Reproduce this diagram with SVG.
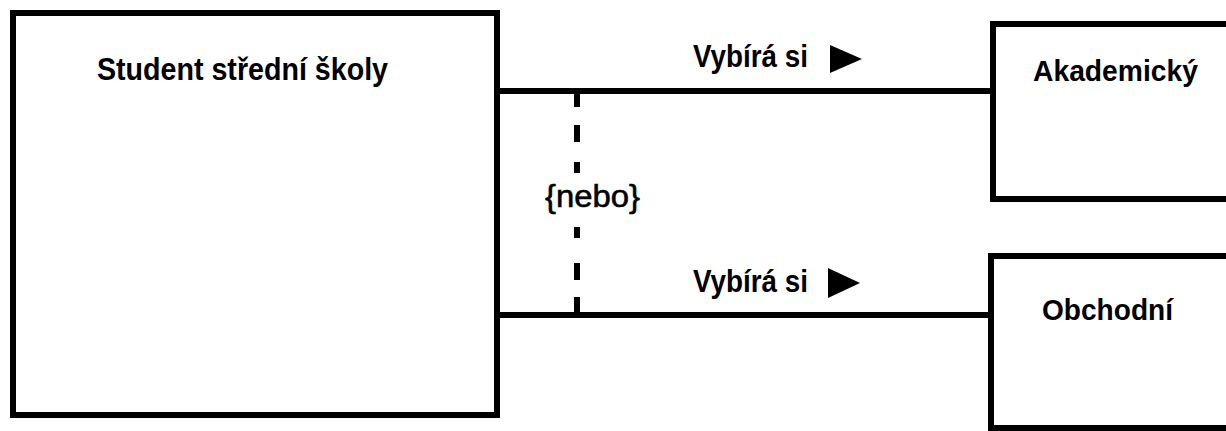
<svg xmlns="http://www.w3.org/2000/svg" width="1226" height="431" viewBox="0 0 1226 431">
<style>
.box{fill:#fff;stroke:#000;stroke-width:6}
.ln{stroke:#000;stroke-width:6;fill:none}
.dash{stroke:#000;stroke-width:6;fill:none}
.t{font-family:"Liberation Sans Narrow","Liberation Sans",Arial,sans-serif;font-weight:bold;fill:#000}
.n{font-family:"Liberation Sans Narrow","Liberation Sans",Arial,sans-serif;fill:#000}
.tri{fill:#000}
</style>
<rect width="1226" height="431" fill="#fff"/>
<g id="student">
<rect class="box" x="13" y="13" width="484" height="402"/>
<text class="t" x="97" y="80" font-size="32" textLength="291" lengthAdjust="spacingAndGlyphs">Student střední školy</text>
</g>
<g id="akademicky">
<rect class="box" x="993" y="24" width="300" height="175"/>
<text class="t" x="1033" y="81" font-size="29" textLength="165" lengthAdjust="spacingAndGlyphs">Akademický</text>
</g>
<g id="obchodni">
<rect class="box" x="991" y="256" width="300" height="172"/>
<text class="t" x="1042" y="320" font-size="29" textLength="131" lengthAdjust="spacingAndGlyphs">Obchodní</text>
</g>
<g id="connectors">
<line class="ln" x1="497" y1="91" x2="993" y2="91"/>
<line class="ln" x1="497" y1="315" x2="991" y2="315"/>
<path class="dash" d="M577 93V107M577 125V142M577 162V173M577 227V238M577 263V280M577 297V313"/>
<text class="t" x="693" y="67" font-size="32" textLength="115" lengthAdjust="spacingAndGlyphs">Vybírá si</text>
<polygon class="tri" points="830,45 862,59 830,73"/>
<text class="t" x="693" y="292" font-size="32" textLength="115" lengthAdjust="spacingAndGlyphs">Vybírá si</text>
<polygon class="tri" points="828,268 860,283 828,298"/>
<text class="n" x="545" y="207" font-size="31" stroke="#000" stroke-width="0.6" textLength="95" lengthAdjust="spacingAndGlyphs">{nebo}</text>
</g>
</svg>
